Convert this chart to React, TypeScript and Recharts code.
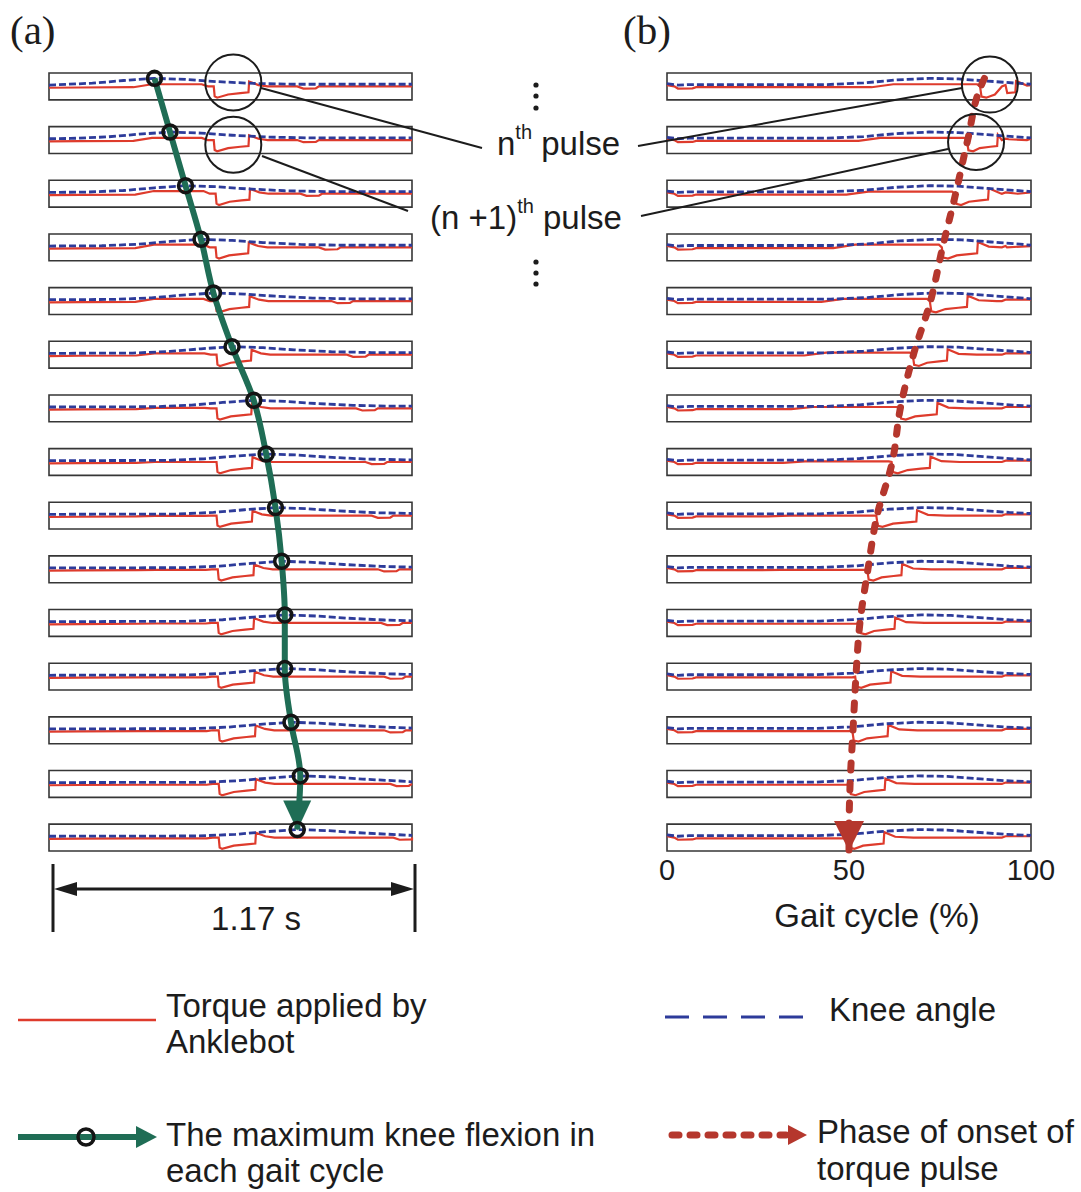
import React from 'react'
import { LineChart, Line, XAxis, YAxis, ReferenceArea, ReferenceDot, Label } from 'recharts'

const STRIP_COUNT = 15
const STRIP_H = 0.5
const Y_TOP = 14.5
const WINDOW_S = 1.17
const KNEE_PEAK = 0.8

// panel (a): time inside the 1.17 s window
const peakTimeA = [0.34, 0.39, 0.44, 0.49, 0.53, 0.59, 0.66, 0.7, 0.73, 0.75, 0.76, 0.76, 0.78, 0.81, 0.8]
const onsetA = [0.532, 0.532, 0.538, 0.538, 0.538, 0.541, 0.541, 0.541, 0.541, 0.545, 0.545, 0.545, 0.548, 0.548, 0.548]
const pulseLenA = [0.113, 0.113, 0.11, 0.106, 0.109, 0.112, 0.113, 0.115, 0.115, 0.116, 0.116, 0.118, 0.118, 0.119, 0.119]
const leadA = [0.58, 0.58, 0.6, 0.6, 0.58, 0.55, 0.52, 0.5, 0.49, 0.48, 0.48, 0.47, 0.47, 0.47, 0.47]
const notchA = [0.82, 0.82, 0.83, 0.89, 0.93, 0.98, 1.01, 1.04, 1.06, 1.08, 1.09, 1.1, 1.1, 1.12, 1.13]

// panel (b): percent of gait cycle
const onsetB = [86.2, 82.6, 79.3, 75.7, 72.4, 67.7, 64.1, 61.9, 57.7, 55.2, 53.0, 51.9, 51.1, 50.3, 50.0]
const pulseLenB = [9.7, 8.3, 9.1, 9.7, 10.2, 9.4, 10.2, 10.5, 11, 9.4, 9.7, 9.7, 9.7, 9.7, 9.7]
const kneePeakB = [72, 72, 72, 73, 73, 72, 71, 71, 70, 70, 70, 69, 69, 69, 69]
const leadB = [0.58, 0.58, 0.58, 0.6, 0.58, 0.58, 0.55, 0.52, 0.5, 0.48, 0.47, 0.47, 0.47, 0.47, 0.47]
const gaitTicks = [0, 50, 100]

const calloutA = [{ strip: 0, x: 0.594, v: 0.65 }, { strip: 1, x: 0.594, v: 0.33 }]
const calloutB = [{ strip: 0, x: 88.7, v: 0.57 }, { strip: 1, x: 84.9, v: 0.43 }]

const RED = '#de3b2c'
const BLUE = '#2d3b9a'
const GREEN = '#1f6d55'
const ONSET_RED = '#b5372d'
const INK = '#1c1c1c'
const SANS = '"Liberation Sans", Arial, sans-serif'
const SERIF = '"Liberation Serif", "Times New Roman", serif'

type Pt = { x: number; y: number }

const stripBase = (i: number) => STRIP_COUNT - 1 - i

function toStrip(i: number, pts: [number, number][], span: number): Pt[] {
  return pts
    .filter(([x]) => x >= 0 && x <= span)
    .sort((a, b) => a[0] - b[0])
    .map(([x, v]) => ({ x, y: stripBase(i) + v * STRIP_H }))
}

function torqueA(i: number): Pt[] {
  const on = onsetA[i], w = pulseLenA[i], lead = leadA[i], n = notchA[i]
  return toStrip(i, [
    [0, 0.45], [0.1, 0.46], [on - 0.26, 0.47], [on - 0.2, lead], [on - 0.04, lead], [on - 0.02, 0.5],
    [on - 0.001, 0.5], [on + 0.002, 0.13], [on + 0.01, 0.08], [on + w * 0.4, 0.2], [on + w * 0.75, 0.25],
    [on + w - 0.002, 0.28], [on + w, 0.68], [on + w + 0.03, 0.55], [on + w + 0.06, 0.5],
    [n - 0.02, 0.5], [n, 0.42], [n + 0.04, 0.43], [n + 0.05, 0.5], [WINDOW_S, 0.5],
  ], WINDOW_S)
}

function kneeA(i: number): Pt[] {
  const pk = peakTimeA[i]
  return toStrip(i, [
    [0, 0.55], [pk - 0.32, 0.56], [pk - 0.2, 0.62], [pk - 0.1, 0.72], [pk, KNEE_PEAK], [pk + 0.1, 0.76],
    [pk + 0.2, 0.68], [pk + 0.32, 0.61], [pk + 0.45, 0.58], [WINDOW_S, 0.58],
  ], WINDOW_S)
}

function torqueB(i: number): Pt[] {
  const on = onsetB[i], w = pulseLenB[i], lead = leadB[i]
  return toStrip(i, [
    [0, 0.55], [2, 0.5], [3, 0.42], [7, 0.43], [8, 0.47], [on - 30, 0.47], [on - 24, lead], [on - 1, lead],
    [on - 0.2, 0.5], [on + 0.2, 0.12], [on + 1.5, 0.08], [on + w * 0.4, 0.2], [on + w * 0.75, 0.25],
    [on + w - 0.2, 0.28], [on + w, 0.7], [on + w + 3, 0.53], [on + w + 8, 0.5], [92, 0.5], [93, 0.55], [100, 0.55],
  ], 100)
}

function kneeB(i: number): Pt[] {
  const pk = kneePeakB[i]
  return toStrip(i, [
    [0, 0.6], [3, 0.55], [6, 0.57], [pk - 28, 0.57], [pk - 18, 0.63], [pk - 9, 0.74], [pk, KNEE_PEAK],
    [pk + 8, 0.78], [pk + 16, 0.7], [pk + 24, 0.62], [100, 0.58],
  ], 100)
}

const flexionPath: Pt[] = peakTimeA.map((x, i) => ({ x, y: stripBase(i) + KNEE_PEAK * STRIP_H }))
const onsetPath: Pt[] = [
  { x: onsetB[0] + 1, y: Y_TOP - 0.1 },
  ...onsetB.map((x, i) => ({ x, y: stripBase(i) + STRIP_H / 2 })),
  { x: onsetB[STRIP_COUNT - 1], y: 0 },
]

const strips = Array.from({ length: STRIP_COUNT }, (_, i) => i)

const renderFlexionDot = (props: any) => {
  const { cx, cy, index } = props
  const last = index === flexionPath.length - 1
  return (
    <g key={`fx-${index}`}>
      {last && <polygon points={`${cx - 14},${cy - 29} ${cx + 14},${cy - 29} ${cx},${cy + 1}`} fill={GREEN} />}
      <circle cx={cx} cy={cy} r={7} fill="none" stroke="#141414" strokeWidth={3.5} />
    </g>
  )
}

const renderOnsetDot = (props: any) => {
  const { cx, cy, index } = props
  if (index !== onsetPath.length - 1) return <g key={`on-${index}`} />
  return <polygon key={`on-${index}`} points={`${cx - 15},${cy - 30} ${cx + 15},${cy - 30} ${cx},${cy}`} fill={ONSET_RED} />
}

function PanelA() {
  return (
    <LineChart width={383} height={813} margin={{ top: 25, right: 10, bottom: 10, left: 10 }}>
      <XAxis type="number" dataKey="x" domain={[0, WINDOW_S]} hide />
      <YAxis type="number" dataKey="y" domain={[0, Y_TOP]} hide />
      {strips.map((i) => (
        <ReferenceArea key={`fa-${i}`} x1={0} x2={WINDOW_S} y1={stripBase(i)} y2={stripBase(i) + STRIP_H}
          fill="none" stroke="#363636" strokeWidth={1.6} />
      ))}
      {strips.map((i) => (
        <Line key={`ta-${i}`} data={torqueA(i)} dataKey="y" type="linear" stroke={RED} strokeWidth={2.2}
          dot={false} activeDot={false} isAnimationActive={false} />
      ))}
      {strips.map((i) => (
        <Line key={`ka-${i}`} data={kneeA(i)} dataKey="y" type="linear" stroke={BLUE} strokeWidth={2.8}
          strokeDasharray="7 3" dot={false} activeDot={false} isAnimationActive={false} />
      ))}
      <Line data={flexionPath} dataKey="y" type="monotoneY" stroke={GREEN} strokeWidth={6}
        dot={renderFlexionDot} activeDot={false} isAnimationActive={false} />
      {calloutA.map((c) => (
        <ReferenceDot key={`ca-${c.strip}`} x={c.x} y={stripBase(c.strip) + c.v * STRIP_H} r={28}
          fill="none" stroke={INK} strokeWidth={2} />
      ))}
    </LineChart>
  )
}

function PanelB() {
  return (
    <LineChart width={424} height={893} margin={{ top: 25, right: 50, bottom: 0, left: 10 }}>
      <XAxis type="number" dataKey="x" domain={[0, 100]} ticks={gaitTicks} height={90}
        axisLine={false} tickLine={false} tick={{ fill: INK, fontSize: 29, fontFamily: SANS }} interval={0}>
        <Label value="Gait cycle (%)" position="insideBottom" offset={14} dx={28}
          style={{ fill: INK, fontSize: 33, fontFamily: SANS }} />
      </XAxis>
      <YAxis type="number" dataKey="y" domain={[0, Y_TOP]} hide />
      {strips.map((i) => (
        <ReferenceArea key={`fb-${i}`} x1={0} x2={100} y1={stripBase(i)} y2={stripBase(i) + STRIP_H}
          fill="none" stroke="#363636" strokeWidth={1.6} />
      ))}
      {strips.map((i) => (
        <Line key={`tb-${i}`} data={torqueB(i)} dataKey="y" type="linear" stroke={RED} strokeWidth={2.2}
          dot={false} activeDot={false} isAnimationActive={false} />
      ))}
      {strips.map((i) => (
        <Line key={`kb-${i}`} data={kneeB(i)} dataKey="y" type="linear" stroke={BLUE} strokeWidth={2.8}
          strokeDasharray="7 3" dot={false} activeDot={false} isAnimationActive={false} />
      ))}
      <Line data={onsetPath} dataKey="y" type="monotoneY" stroke={ONSET_RED} strokeWidth={7}
        strokeDasharray="7 13" strokeLinecap="round" dot={renderOnsetDot} activeDot={false} isAnimationActive={false} />
      {calloutB.map((c) => (
        <ReferenceDot key={`cb-${c.strip}`} x={c.x} y={stripBase(c.strip) + c.v * STRIP_H} r={28}
          fill="none" stroke={INK} strokeWidth={2} />
      ))}
    </LineChart>
  )
}

function Overlay() {
  const t = { fontFamily: SANS, fill: INK }
  return (
    <svg width={1081} height={1192} style={{ position: 'absolute', left: 0, top: 0, pointerEvents: 'none' }}>
      <text x={10} y={44} fontFamily={SERIF} fontSize={41} fill={INK}>(a)</text>
      <text x={623} y={44} fontFamily={SERIF} fontSize={41} fill={INK}>(b)</text>

      {/* callouts */}
      <g stroke={INK} strokeWidth={2}>
        <line x1={261} y1={88} x2={482} y2={148} />
        <line x1={262} y1={156} x2={408} y2={211} />
        <line x1={638} y1={146} x2={962} y2={88} />
        <line x1={641} y1={216} x2={948} y2={149} />
      </g>
      <text x={497} y={155} fontSize={33} {...t}>n<tspan dy={-16} fontSize={20}>th</tspan><tspan dy={16} fontSize={33}> pulse</tspan></text>
      <text x={430} y={229} fontSize={33} {...t}>(n +1)<tspan dy={-16} fontSize={20}>th</tspan><tspan dy={16} fontSize={33}> pulse</tspan></text>
      <g fill={INK}>
        {[85, 96, 108, 262, 273, 284].map((y) => <circle key={y} cx={536} cy={y} r={2.6} />)}
      </g>

      {/* 1.17 s span */}
      <g stroke={INK} strokeWidth={3}>
        <line x1={53} y1={864} x2={53} y2={932} />
        <line x1={415} y1={864} x2={415} y2={932} />
        <line x1={70} y1={889} x2={398} y2={889} />
      </g>
      <polygon points="54,889 77,882 77,896" fill={INK} />
      <polygon points="414,889 391,882 391,896" fill={INK} />
      <text x={256} y={930} fontSize={33} textAnchor="middle" {...t}>1.17 s</text>

      {/* legend */}
      <line x1={18} y1={1020} x2={156} y2={1020} stroke={RED} strokeWidth={2.5} />
      <text x={166} y={1017} fontSize={33} {...t}>Torque applied by</text>
      <text x={166} y={1053} fontSize={33} {...t}>Anklebot</text>

      <line x1={665} y1={1017} x2={803} y2={1017} stroke={BLUE} strokeWidth={3} strokeDasharray="24 14" />
      <text x={829} y={1021} fontSize={33} {...t}>Knee angle</text>

      <line x1={18} y1={1137} x2={140} y2={1137} stroke={GREEN} strokeWidth={6} />
      <polygon points="157,1137 136,1126 136,1148" fill={GREEN} />
      <circle cx={86} cy={1137} r={8} fill="none" stroke="#141414" strokeWidth={3.5} />
      <text x={166} y={1146} fontSize={33} {...t}>The maximum knee flexion in</text>
      <text x={166} y={1182} fontSize={33} {...t}>each gait cycle</text>

      <line x1={672} y1={1135} x2={786} y2={1135} stroke={ONSET_RED} strokeWidth={7}
        strokeDasharray="7 11" strokeLinecap="round" />
      <polygon points="807,1135 788,1125 788,1145" fill={ONSET_RED} />
      <text x={817} y={1143} fontSize={33} {...t}>Phase of onset of</text>
      <text x={817} y={1180} fontSize={33} {...t}>torque pulse</text>
    </svg>
  )
}

export default function App() {
  return (
    <div style={{ position: 'absolute', left: 0, top: 0, width: 1081, height: 1192, background: '#fff', overflow: 'hidden' }}>
      <div style={{ position: 'absolute', left: 39, top: 48 }}>
        <PanelA />
      </div>
      <div style={{ position: 'absolute', left: 657, top: 48 }}>
        <PanelB />
      </div>
      <Overlay />
    </div>
  )
}
